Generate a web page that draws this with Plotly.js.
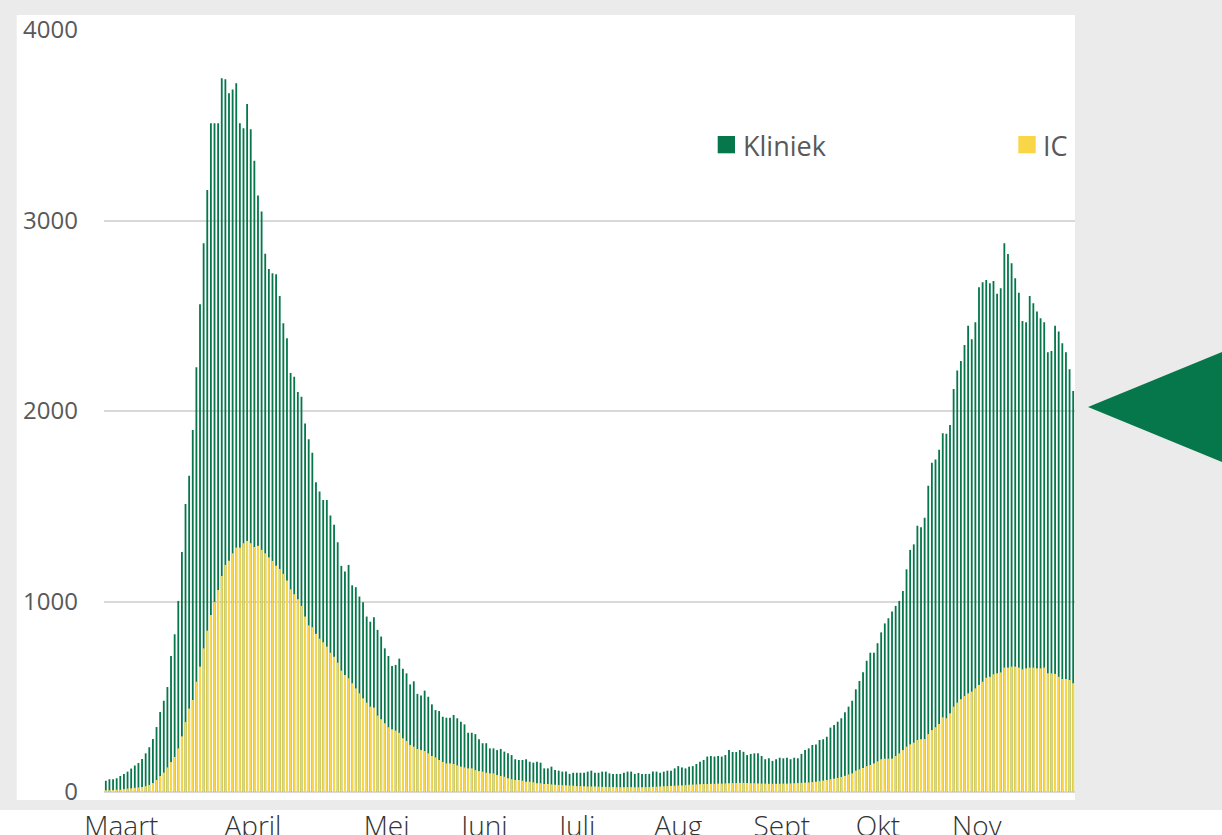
<!DOCTYPE html>
<html>
<head>
<meta charset="utf-8">
<script src="https://cdn.plot.ly/plotly-3.0.1.min.js"></script>
<style>
  html, body { margin: 0; padding: 0; background: #ffffff; }
  #chart { width: 1222px; height: 835px; }
</style>
</head>
<body>
<div id="chart"></div>
<script>
// Daily occupancy (day index 0 = first bar, late February)
const kliniek = [
  59, 67, 67, 72, 84, 95, 107, 123, 139, 152,
  173, 203, 235, 278, 341, 420, 479, 551, 714, 828,
  1003, 1260, 1512, 1660, 1900, 2230, 2560, 2880, 3160, 3510,
  3510, 3510, 3747, 3741, 3668, 3688, 3720, 3510, 3484, 3612,
  3479, 3313, 3131, 3047, 2826, 2746, 2723, 2718, 2604, 2461,
  2382, 2200, 2180, 2100, 2075, 1935, 1852, 1781, 1626, 1577,
  1533, 1533, 1451, 1403, 1311, 1187, 1157, 1192, 1085, 1075,
  1026, 996, 921, 894, 917, 851, 816, 754, 714, 662,
  667, 700, 647, 623, 565, 581, 515, 506, 532, 500,
  460, 430, 425, 395, 390, 390, 404, 387, 369, 355,
  311, 311, 304, 277, 256, 256, 229, 229, 220, 226,
  212, 203, 194, 172, 168, 168, 172, 159, 154, 159,
  154, 124, 124, 133, 115, 112, 107, 107, 95, 101,
  101, 101, 101, 107, 112, 101, 101, 107, 107, 98,
  95, 95, 95, 101, 107, 107, 95, 100, 95, 95,
  95, 107, 107, 101, 107, 112, 112, 124, 136, 129,
  124, 133, 136, 147, 159, 168, 186, 189, 186, 189,
  186, 194, 220, 210, 210, 220, 211, 194, 200, 203,
  203, 189, 172, 177, 163, 172, 180, 177, 180, 172,
  180, 177, 200, 220, 229, 247, 250, 273, 277, 290,
  338, 352, 369, 387, 418, 448, 479, 539, 583, 628,
  689, 731, 731, 781, 838, 885, 912, 947, 977, 1003,
  1055, 1169, 1271, 1300, 1397, 1390, 1440, 1607, 1729, 1746,
  1796, 1883, 1880, 1927, 2116, 2212, 2263, 2347, 2447, 2377,
  2466, 2650, 2676, 2688, 2671, 2683, 2615, 2644, 2880, 2824,
  2776, 2697, 2621, 2473, 2466, 2604, 2566, 2522, 2487, 2466,
  2308, 2315, 2447, 2417, 2356, 2308, 2219, 2105
];
const ic = [
  9, 9, 10, 12, 12, 15, 18, 19, 22, 24,
  26, 31, 37, 47, 63, 84, 102, 129, 157, 184,
  229, 292, 367, 438, 483, 579, 658, 754, 847, 929,
  998, 1060, 1134, 1192, 1214, 1253, 1283, 1283, 1306, 1318,
  1306, 1286, 1292, 1271, 1253, 1232, 1213, 1188, 1171, 1145,
  1110, 1064, 1038, 1012, 977, 921, 875, 865, 830, 805,
  786, 763, 731, 710, 679, 637, 614, 597, 571, 544,
  518, 492, 469, 448, 443, 401, 382, 361, 340, 329,
  322, 311, 282, 268, 247, 238, 226, 220, 215, 203,
  189, 182, 168, 158, 150, 150, 147, 140, 133, 129,
  124, 124, 115, 110, 107, 101, 98, 98, 89, 84,
  80, 72, 67, 63, 63, 59, 54, 54, 51, 46,
  46, 42, 42, 40, 38, 37, 36, 35, 34, 33,
  31, 31, 30, 29, 29, 29, 28, 27, 27, 26,
  26, 25, 25, 25, 26, 26, 25, 25, 25, 26,
  26, 27, 28, 29, 30, 31, 32, 33, 34, 35,
  37, 38, 39, 40, 41, 42, 42, 43, 43, 44,
  44, 45, 46, 47, 47, 48, 48, 47, 46, 46,
  45, 44, 44, 43, 43, 43, 43, 44, 44, 45,
  46, 47, 48, 49, 50, 52, 54, 57, 60, 63,
  67, 70, 74, 79, 85, 92, 98, 112, 119, 126,
  136, 142, 150, 161, 172, 175, 175, 175, 189, 203,
  220, 238, 250, 259, 273, 277, 278, 304, 325, 340,
  357, 392, 387, 413, 448, 469, 487, 504, 518, 527,
  544, 562, 579, 600, 605, 618, 623, 628, 653, 653,
  658, 658, 653, 644, 649, 653, 653, 649, 649, 653,
  623, 623, 620, 605, 593, 593, 588, 571
];
const monthLabels = ["Maart", "April", "Mei", "Juni", "Juli", "Aug", "Sept", "Okt", "Nov"];
const monthLabelPos = [4.3, 40.6, 77.5, 104.5, 130.1, 158.0, 186.6, 213.1, 240.4];
const yTicks = [0, 1000, 2000, 3000, 4000];
const seriesNames = ["Kliniek", "IC"];

const days = kliniek.map((_, i) => i);

const GREEN = "#05774a";
const YELLOW = "#f9d548";

// plot area in pixels: left 104, right 1075, top 30, bottom 792
const L = 104, R = 1075, T = 30, B = 792, W = 1222, H = 835;
const px = x => (x - L) / (R - L);
const py = y => (B - y) / (B - T);

const traces = [
  { type: "bar", name: seriesNames[0], x: days, y: kliniek, width: 0.5,
    marker: { color: GREEN, line: { width: 0 } }, showlegend: false, hoverinfo: "skip" },
  { type: "bar", name: seriesNames[1], x: days, y: ic, width: 0.58,
    marker: { color: YELLOW, line: { width: 0 } }, showlegend: false, hoverinfo: "skip" }
];

const layout = {
  width: W, height: H,
  margin: { l: L, r: W - R, t: T, b: H - B, pad: 0 },
  paper_bgcolor: "#ffffff",
  plot_bgcolor: "#ffffff",
  barmode: "overlay",
  font: { family: "Open Sans, Noto Sans, sans-serif", color: "#595959" },
  xaxis: {
    range: [-0.5, kliniek.length - 0.5],
    tickmode: "array", tickvals: monthLabelPos, ticktext: monthLabels,
    showgrid: false, zeroline: false, showline: false, ticks: "",
    ticklabelstandoff: 15,
    tickfont: { family: "Open Sans, sans-serif", size: 28, color: "#333333", weight: 300 },
    fixedrange: true
  },
  yaxis: {
    range: [0, 4000],
    tickmode: "array", tickvals: yTicks, ticktext: yTicks.map(String),
    showgrid: true, gridcolor: "#d9d9d9", gridwidth: 2,
    zeroline: true, zerolinecolor: "#d9d9d9", zerolinewidth: 2,
    showline: false, ticks: "",
    ticklabelstandoff: 25,
    tickfont: { family: "Open Sans, sans-serif", size: 24, color: "#595959" },
    fixedrange: true
  },
  shapes: [
    { type: "rect", xref: "paper", yref: "paper", layer: "below",
      x0: px(0), x1: px(W), y0: py(810), y1: py(0),
      fillcolor: "#ebebeb", line: { width: 0 } },
    { type: "rect", xref: "paper", yref: "paper", layer: "below",
      x0: px(16.7), x1: px(1075), y0: py(800), y1: py(15),
      fillcolor: "#ffffff", line: { width: 0 } },
    { type: "path", xref: "paper", yref: "paper", layer: "above",
      path: `M ${px(1088)} ${py(407)} L ${px(1222)} ${py(352)} L ${px(1222)} ${py(462)} Z`,
      fillcolor: GREEN, line: { width: 0 } },
    { type: "rect", xref: "paper", yref: "paper",
      x0: px(717.7), x1: px(735), y0: py(153.3), y1: py(136),
      fillcolor: GREEN, line: { width: 0 } },
    { type: "rect", xref: "paper", yref: "paper",
      x0: px(1018.3), x1: px(1035.7), y0: py(153.3), y1: py(136),
      fillcolor: YELLOW, line: { width: 0 } }
  ],
  annotations: [
    { xref: "paper", yref: "paper", x: px(741), y: py(145), xanchor: "left", yanchor: "middle",
      text: seriesNames[0], showarrow: false,
      font: { family: "Open Sans, sans-serif", size: 27, color: "#595959" } },
    { xref: "paper", yref: "paper", x: px(1041), y: py(145), xanchor: "left", yanchor: "middle",
      text: seriesNames[1], showarrow: false,
      font: { family: "Open Sans, sans-serif", size: 27, color: "#595959" } }
  ]
};

Plotly.newPlot("chart", traces, layout, { displayModeBar: false, staticPlot: true });
</script>
</body>
</html>
